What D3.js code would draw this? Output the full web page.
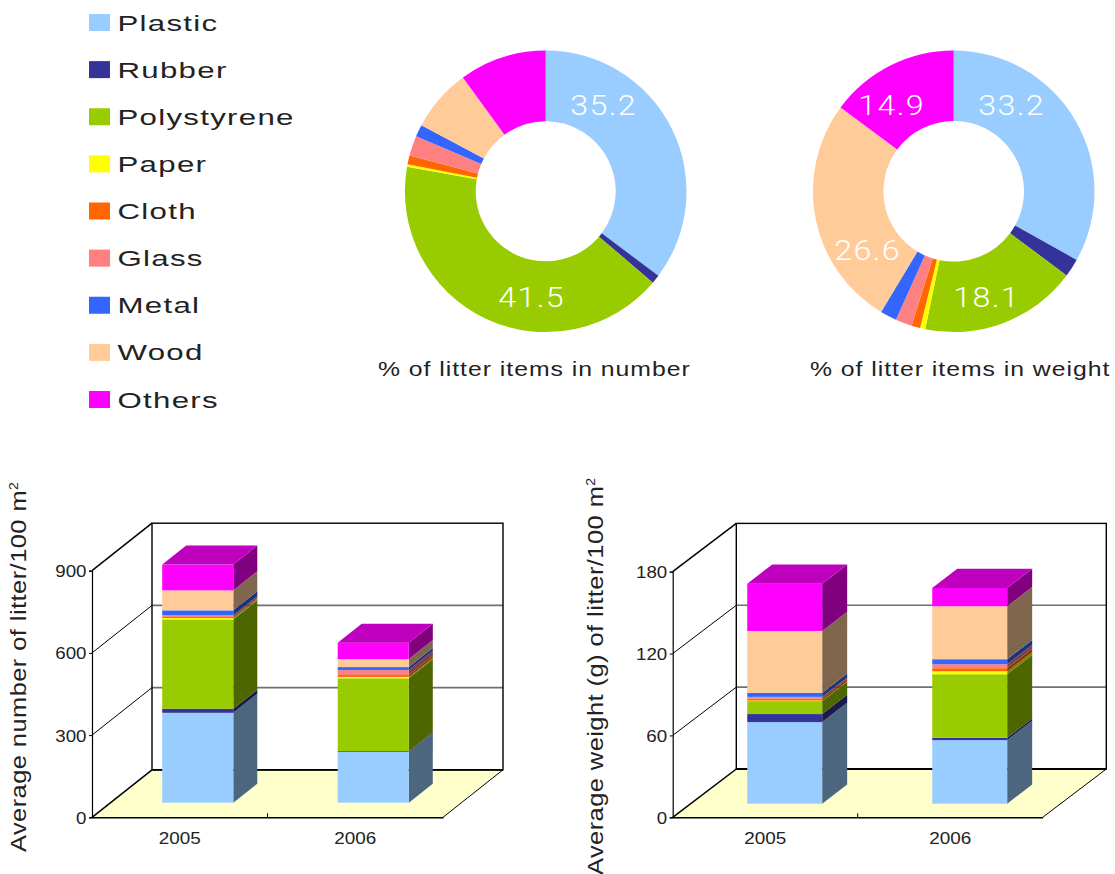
<!DOCTYPE html>
<html><head><meta charset="utf-8"><title>Litter composition</title>
<script src="https://cdn.jsdelivr.net/npm/d3@7"></script>
<style>html,body{margin:0;padding:0;background:#fff}svg{display:block}text{font-family:"Liberation Sans",Arial,sans-serif;fill:#222}</style>
</head><body><svg id="c" width="1115" height="874"></svg>
<script>
const categories = ["Plastic","Rubber","Polystyrene","Paper","Cloth","Glass","Metal","Wood","Others"];
const colors = ["#99CCFF","#333399","#99CC00","#FFFF00","#FF6600","#FF8080","#3366FF","#FFCC99","#FF00FF"];
const years = ["2005","2006"];
const numberPct = [35.2,1.0,41.5,0.3,1.0,2.3,1.4,7.2,10.0];
const weightPct = [33.2,2.1,18.1,0.6,1.0,1.9,1.9,26.6,14.9];
const numberLabelSpots = {Plastic:[58,-86],Polystyrene:[-14,106]};
const weightLabelSpots = {Plastic:[58,-86],Polystyrene:[33,106],Wood:[-86,59],Others:[-62,-86]};
const number2005 = [328,15,326,5,4,6,18,73,94];
const number2006 = [185,3,266,5,7,18,11,29,60];
const weight2005 = [59.8,5.9,9.5,0.4,1.5,1.2,2.9,45.4,34.6];
const weight2006 = [46.6,1.7,46.6,2.2,2.2,2.9,3.7,38.8,13.4];
const numberTicks = [0,300,600,900];
const weightTicks = [0,60,120,180];

const svg = d3.select("#c");
const color = d3.scaleOrdinal(categories, colors);
const shade = (c,k)=>{const r=d3.rgb(c);return d3.rgb(r.r*k,r.g*k,r.b*k).formatHex();};

function stretched(g,str,x,y,size,anchor,sx,ls){
  return g.append("text").attr("transform",`translate(${x},${y}) scale(${sx},1)`)
    .attr("text-anchor",anchor).attr("font-size",size).style("letter-spacing",(ls||0)+"px").text(str);
}

// legend
const legendY = d3.scalePoint().domain(categories).range([22.5,399.5]);
const lg = svg.append("g");
categories.forEach(c=>{
  lg.append("rect").attr("x",89).attr("y",legendY(c)-8.5).attr("width",21).attr("height",17).attr("fill",color(c));
  stretched(lg,c,117.5,legendY(c)+8,22,"start",1.42,0.9);
});

// donuts
function donut(values,cx,cy,ro,ri,spots,caption,capX){
  const g = svg.append("g").attr("transform",`translate(${cx},${cy})`);
  const arcs = d3.pie().sort(null).value(d=>d.v)(categories.map((c,i)=>({c,v:values[i]})));
  const arc = d3.arc().innerRadius(ri).outerRadius(ro);
  g.selectAll("path").data(arcs).join("path").attr("d",arc).attr("fill",d=>color(d.data.c));
  arcs.filter(d=>spots[d.data.c]).forEach(d=>{
    const [x,y]=spots[d.data.c];
    const t=stretched(g,d.data.v.toFixed(1),x,y+10,28,"middle",1.15,1.2);
    t.style("fill","#fff").style("font-family","Roboto, 'Liberation Sans', sans-serif").style("font-weight",300);
  });
  stretched(svg,caption,capX,375.5,20,"start",1.24,0.78);
}
donut(numberPct,545.7,191.3,140.8,70,numberLabelSpots,"% of litter items in number",378);
donut(weightPct,953.7,191.3,140.8,70.3,weightLabelSpots,"% of litter items in weight",810);

// 3D stacked bars
function chart(o){
  const g = svg.append("g");
  const x = d3.scaleBand().domain(years).range([o.x0,o.x1]);
  const y = d3.scaleLinear().domain([0,o.ticks[o.ticks.length-1]]).range([817.3,o.yTop]);
  const D = o.depth, top=o.ticks[o.ticks.length-1];
  const poly = pts => "M"+pts.map(p=>p.join(",")).join("L")+"Z";
  // floor
  g.append("path").attr("d",poly([[o.x0,y(0)],[o.x1,y(0)],[o.x1+D[0],y(0)+D[1]],[o.x0+D[0],y(0)+D[1]]])).attr("fill","#FFFFCC");
  // grid on back wall
  o.ticks.slice(1,-1).forEach(t=>{
    g.append("line").attr("x1",o.x0+D[0]).attr("x2",o.x1+D[0]).attr("y1",y(t)+D[1]).attr("y2",y(t)+D[1]).attr("stroke","#707070").attr("stroke-width",1.7);
  });
  // wall frame
  g.append("rect").attr("x",o.x0+D[0]).attr("y",y(top)+D[1]).attr("width",o.x1-o.x0).attr("height",y(0)-y(top)).attr("fill","none").attr("stroke","#000").attr("stroke-width",1.4);
  g.append("line").attr("x1",o.x0+D[0]).attr("x2",o.x1+D[0]).attr("y1",y(0)+D[1]).attr("y2",y(0)+D[1]).attr("stroke","#000").attr("stroke-width",1.8);
  // side wall
  o.ticks.forEach(t=>{
    g.append("line").attr("x1",o.x0).attr("y1",y(t)).attr("x2",o.x0+D[0]).attr("y2",y(t)+D[1]).attr("stroke","#000").attr("stroke-width",(t===0||t===top)?1.5:1);
  });
  g.append("line").attr("x1",o.x1).attr("y1",y(0)).attr("x2",o.x1+D[0]).attr("y2",y(0)+D[1]).attr("stroke","#000").attr("stroke-width",1);
  // bars
  const rows = years.map((yr,i)=>{const r={year:yr};categories.forEach((c,j)=>r[c]=o.data[i][j]);return r;});
  const stack = d3.stack().keys(categories)(rows);
  const bw = x.bandwidth()*0.405;
  const [bdx,bdy]=o.barDepth;
  years.forEach((yr,i)=>{
    const bl = x(yr)+x.bandwidth()/2-bw/2+o.shift[0], br=bl+bw;
    const off = o.shift[1];
    stack.forEach(s=>{
      const y0=y(s[i][0])+off, y1=y(s[i][1])+off;
      g.append("path").attr("d",poly([[br,y0],[br+bdx,y0+bdy],[br+bdx,y1+bdy],[br,y1]])).attr("fill",shade(color(s.key),0.5));
      g.append("rect").attr("x",bl).attr("y",y1).attr("width",bw).attr("height",y0-y1).attr("fill",color(s.key));
    });
    const tp=y(stack[stack.length-1][i][1])+off;
    g.append("path").attr("d",poly([[bl,tp],[br,tp],[br+bdx,tp+bdy],[bl+bdx,tp+bdy]])).attr("fill",shade(colors[colors.length-1],0.75));
  });
  // axes
  const ay = g.append("g").attr("transform",`translate(${o.x0},0)`).call(d3.axisLeft(y).tickValues(o.ticks).tickSize(3).tickPadding(4));
  ay.select(".domain").attr("stroke","#000").attr("stroke-width",1.2);
  ay.selectAll("text").attr("x",0).attr("y",0).attr("dy",null).attr("font-size",16).attr("font-family",null)
    .attr("transform",`translate(-5.5,6) scale(1.17,1)`);
  const ax = g.append("g").attr("transform",`translate(0,${y(0)})`).call(d3.axisBottom(x).tickSize(0));
  ax.select(".domain").attr("stroke","#000").attr("stroke-width",1.6);
  ax.selectAll("text").attr("y",0).attr("dy",null).attr("font-size",16).attr("font-family",null)
    .attr("transform",`translate(0,26.5) scale(1.18,1)`);
  g.append("line").attr("x1",x(years[1])).attr("x2",x(years[1])).attr("y1",y(0)).attr("y2",y(0)-4).attr("stroke","#000");
  // title
  const t = g.append("text").attr("transform",`translate(${o.titleX},${o.titleY}) rotate(-90) scale(${o.titleSx},1)`).attr("font-size",o.titleSize).style("letter-spacing","0.4px");
  t.append("tspan").text(o.title);
  t.append("tspan").attr("dy",-8).attr("font-size",o.titleSize*0.55).text("2");
}
chart({data:[number2005,number2006],ticks:numberTicks,x0:92,x1:443,yTop:570.7,depth:[60,-47.5],shift:[18,-14.6],barDepth:[24,-19],
  title:"Average number of litter/100 m",titleX:26,titleY:852,titleSx:1.155,titleSize:22});
chart({data:[weight2005,weight2006],ticks:weightTicks,x0:672.7,x1:1042.7,yTop:571.7,depth:[63.6,-48.3],shift:[19.5,-13.6],barDepth:[25,-19.3],
  title:"Average weight (g) of litter/100 m",titleX:603,titleY:875,titleSx:1.155,titleSize:22});
</script></body></html>
